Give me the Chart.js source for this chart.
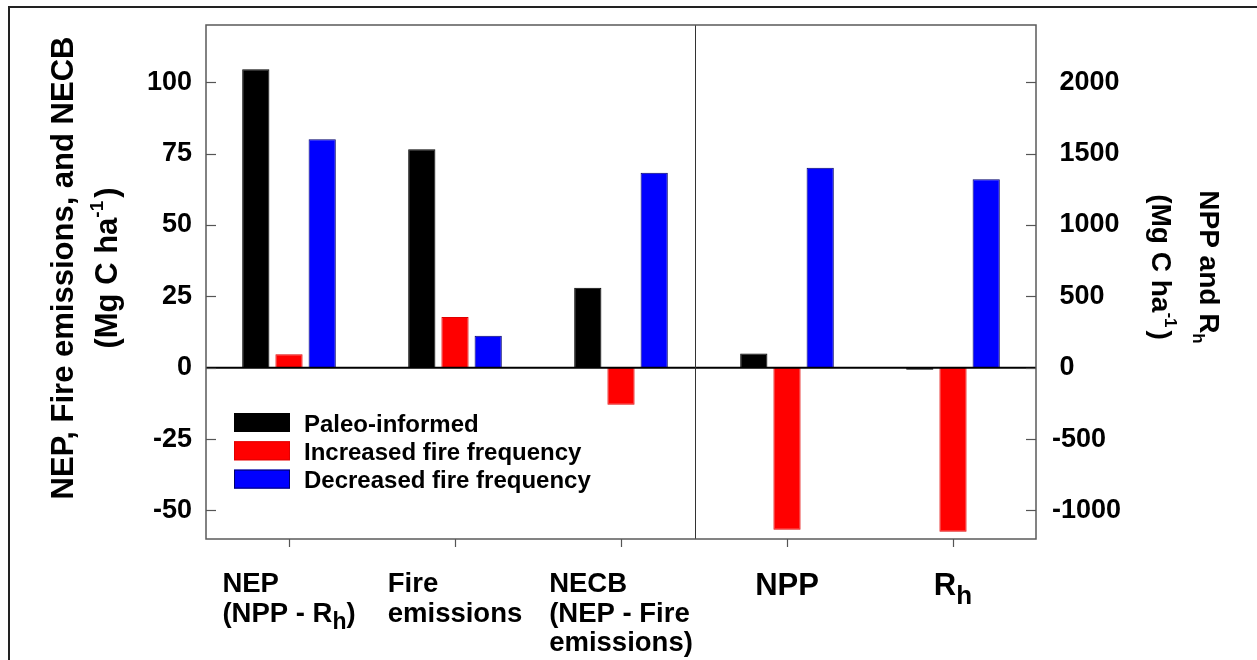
<!DOCTYPE html>
<html>
<head>
<meta charset="utf-8">
<script src="https://cdn.jsdelivr.net/npm/chart.js@4.4.0/dist/chart.umd.min.js"></script>
<style>
    html, body { margin: 0; padding: 0; background: #fff; }
    #wrap { position: relative; width: 1257px; height: 660px; overflow: hidden; }
    #myChart { position: absolute; left: 0; top: 0; }
    #frame { position: absolute; left: 8px; top: 6px; width: 1400px; height: 800px;
             border: 2px solid #222; pointer-events: none; }
</style>
</head>
<body>
<div id="wrap">
    <canvas id="myChart" width="1257" height="660"></canvas>
    <div id="frame"></div>
</div>
<script>
// data
const categories = ["NEP", "Fire emissions", "NECB", "NPP", "Rh"];
const categoryLabels = [
    ["NEP", "(NPP - R_{h})"],
    ["Fire", "emissions"],
    ["NECB", "(NEP - Fire", "emissions)"],
    ["NPP"],
    ["R_{h}"]
];
const paleoInformed = [104.5, 76.5, 28, 100, -15];
const increasedFire = [4.7, 17.7, -13, -1135, -1150];
const decreasedFire = [80, 11.2, 68.3, 1400, 1320];
const seriesNames = ["Paleo-informed", "Increased fire frequency", "Decreased fire frequency"];

const leftTicks = [-50, -25, 0, 25, 50, 75, 100];
const rightTicks = [-1000, -500, 0, 500, 1000, 1500, 2000];
const leftRange = [-60, 120];
const rightRange = [-1200, 2400];
const leftCount = 3;   // first three categories use the left axis

const leftTitle = ["NEP, Fire emissions, and NECB", "(Mg C ha^{-1})"];
const rightTitle = ["NPP and R_{h}", "(Mg C ha^{-1})"];

const FONT = '"Liberation Sans", Arial, sans-serif';

const series = [
    { label: seriesNames[0], values: paleoInformed, color: "#000000", edge: "#000000" },
    { label: seriesNames[1], values: increasedFire, color: "#ff0000", edge: "#e00000" },
    { label: seriesNames[2], values: decreasedFire, color: "#0000ff", edge: "#00006a" }
];

const datasets = [];
series.forEach(s => datasets.push({
    label: s.label,
    data: s.values.map((v, i) => i < leftCount ? v : null),
    yAxisID: "y",
    backgroundColor: s.color,
    borderColor: s.edge,
    borderWidth: 1,
    skipNull: true
}));
series.forEach(s => datasets.push({
    label: s.label,
    data: s.values.map((v, i) => i >= leftCount ? v : null),
    yAxisID: "y2",
    backgroundColor: s.color,
    borderColor: s.edge,
    borderWidth: 1,
    skipNull: true
}));

// text with _{sub} and ^{sup} parts
const parseRuns = str => str.split(/(_\{[^}]*\}|\^\{[^}]*\})/).filter(Boolean).map(p => {
    if (p.startsWith("_{")) return { t: p.slice(2, -1), kind: "sub" };
    if (p.startsWith("^{")) return { t: p.slice(2, -1), kind: "sup" };
    return { t: p, kind: "normal" };
});

const runSize = (kind, size, opt) =>
    kind === "normal" ? size : Math.round(size * (kind === "sub" ? opt.sub : opt.sup));

const measureRuns = (ctx, runs, size, opt) => {
    let w = 0;
    runs.forEach(r => {
        ctx.font = `bold ${runSize(r.kind, size, opt)}px ${FONT}`;
        w += ctx.measureText(r.t).width + (r.kind === "sup" ? 3 : 0);
    });
    return w;
};

const drawRuns = (ctx, runs, x, y, size, opt) => {
    let cx = x;
    runs.forEach(r => {
        ctx.font = `bold ${runSize(r.kind, size, opt)}px ${FONT}`;
        let dy = 0;
        if (r.kind === "sub") dy = size * opt.subDy;
        if (r.kind === "sup") dy = -size * opt.supDy;
        ctx.fillText(r.t, cx, y + dy);
        cx += ctx.measureText(r.t).width + (r.kind === "sup" ? 3 : 0);
    });
};

const line = (ctx, x1, y1, x2, y2) => {
    ctx.beginPath();
    ctx.moveTo(x1, y1);
    ctx.lineTo(x2, y2);
    ctx.stroke();
};

const decor = {
    id: "decor",
    afterDatasetsDraw(chart) {
        const { ctx, chartArea: a, scales } = chart;
        const x = scales.x, yl = scales.y, yr = scales.y2;
        ctx.save();

        // zero line
        const y0 = yl.getPixelForValue(0);
        ctx.strokeStyle = "#000";
        ctx.lineWidth = 2;
        line(ctx, a.left, y0, a.right, y0);

        // divider between the two groups
        const xa = x.getPixelForValue(leftCount - 1), xb = x.getPixelForValue(leftCount);
        const xd = Math.round(xa + 0.445 * (xb - xa)) + 0.5;
        ctx.strokeStyle = "#333";
        ctx.lineWidth = 1;
        line(ctx, xd, a.top, xd, a.bottom);

        // frame
        ctx.strokeStyle = "#5a5a5a";
        ctx.lineWidth = 1.5;
        ctx.strokeRect(a.left, a.top, a.right - a.left, a.bottom - a.top);

        // tick marks
        ctx.strokeStyle = "#555";
        ctx.lineWidth = 1.2;
        leftTicks.forEach(v => {
            const py = Math.round(yl.getPixelForValue(v)) + 0.5;
            line(ctx, a.left, py, a.left + 10, py);
        });
        rightTicks.forEach(v => {
            const py = Math.round(yr.getPixelForValue(v)) + 0.5;
            line(ctx, a.right - 10, py, a.right, py);
        });
        categories.forEach((c, i) => {
            const px = Math.round(x.getPixelForValue(i)) + 0.5;
            line(ctx, px, a.bottom, px, a.bottom + 8);
        });

        // legend
        ctx.textBaseline = "alphabetic";
        ctx.textAlign = "left";
        const lx = a.left + 28, ly = a.top + 388;
        series.forEach((s, i) => {
            const top = ly + i * 28.3;
            ctx.fillStyle = s.color;
            ctx.fillRect(lx, top, 56, 19);
            ctx.strokeStyle = s.edge;
            ctx.lineWidth = 1;
            ctx.strokeRect(lx + 0.5, top + 0.5, 55, 18);
            ctx.fillStyle = "#000";
            ctx.font = `bold 24px ${FONT}`;
            ctx.fillText(s.label, lx + 70, top + 18.5);
        });

        // category labels under the axis
        const xOpt = { sub: 0.85, subDy: 0.28, sup: 0.6, supDy: 0.4 };
        categoryLabels.forEach((lines, i) => {
            const size = i < leftCount ? 27.5 : 31;
            const runs = lines.map(parseRuns);
            const w = Math.max(...runs.map(r => measureRuns(ctx, r, size, xOpt)));
            const left = x.getPixelForValue(i) - w / 2;
            runs.forEach((r, j) => {
                drawRuns(ctx, r, left, a.bottom + (i < leftCount ? 53 : 56) + j * 29.5, size, xOpt);
            });
        });

        // axis titles
        const tOpt = { sub: 0.6, subDy: 0.25, sup: 0.6, supDy: 0.45 };
        const drawTitle = (lines, xs, cy, size, angle) => {
            lines.forEach((txt, j) => {
                const runs = parseRuns(txt);
                const w = measureRuns(ctx, runs, size, tOpt);
                ctx.save();
                ctx.translate(xs[j], cy);
                ctx.rotate(angle);
                drawRuns(ctx, runs, -w / 2, size * 0.36, size, tOpt);
                ctx.restore();
            });
        };
        drawTitle(leftTitle, [62, 106], 268, 31, -Math.PI / 2);
        drawTitle(rightTitle, [1210, 1162], 267, 28, Math.PI / 2);

        ctx.restore();
    }
};

const tickFont = { family: FONT, size: 27, weight: "bold" };
const noPad = s => { s.paddingTop = 0; s.paddingBottom = 0; s.paddingLeft = 0; s.paddingRight = 0; };

new Chart(document.getElementById("myChart"), {
    type: "bar",
    data: { labels: categories, datasets: datasets },
    options: {
        responsive: false,
        animation: false,
        devicePixelRatio: 1,
        categoryPercentage: 0.6,
        barPercentage: 0.82,
        layout: { padding: { top: 25, left: 0, right: 0, bottom: 0 } },
        plugins: { legend: { display: false }, tooltip: { enabled: false } },
        scales: {
            x: {
                grid: { display: false },
                border: { display: false },
                ticks: { display: false },
                afterFit: s => { s.height = 121; noPad(s); }
            },
            y: {
                position: "left",
                min: leftRange[0],
                max: leftRange[1],
                grid: { display: false, drawTicks: false },
                border: { display: false },
                afterBuildTicks: s => { s.ticks = leftTicks.map(v => ({ value: v })); },
                ticks: { font: tickFont, color: "#000", padding: 14 },
                afterFit: s => { s.width = 206; noPad(s); }
            },
            y2: {
                position: "right",
                min: rightRange[0],
                max: rightRange[1],
                grid: { display: false, drawTicks: false },
                border: { display: false },
                afterBuildTicks: s => { s.ticks = rightTicks.map(v => ({ value: v })); },
                ticks: {
                    font: tickFont, color: "#000", padding: 16,
                    callback: v => (v < 0 ? "" : "\u2008") + v
                },
                afterFit: s => { s.width = 221; noPad(s); }
            }
        }
    },
    plugins: [decor]
});
</script>
</body>
</html>
